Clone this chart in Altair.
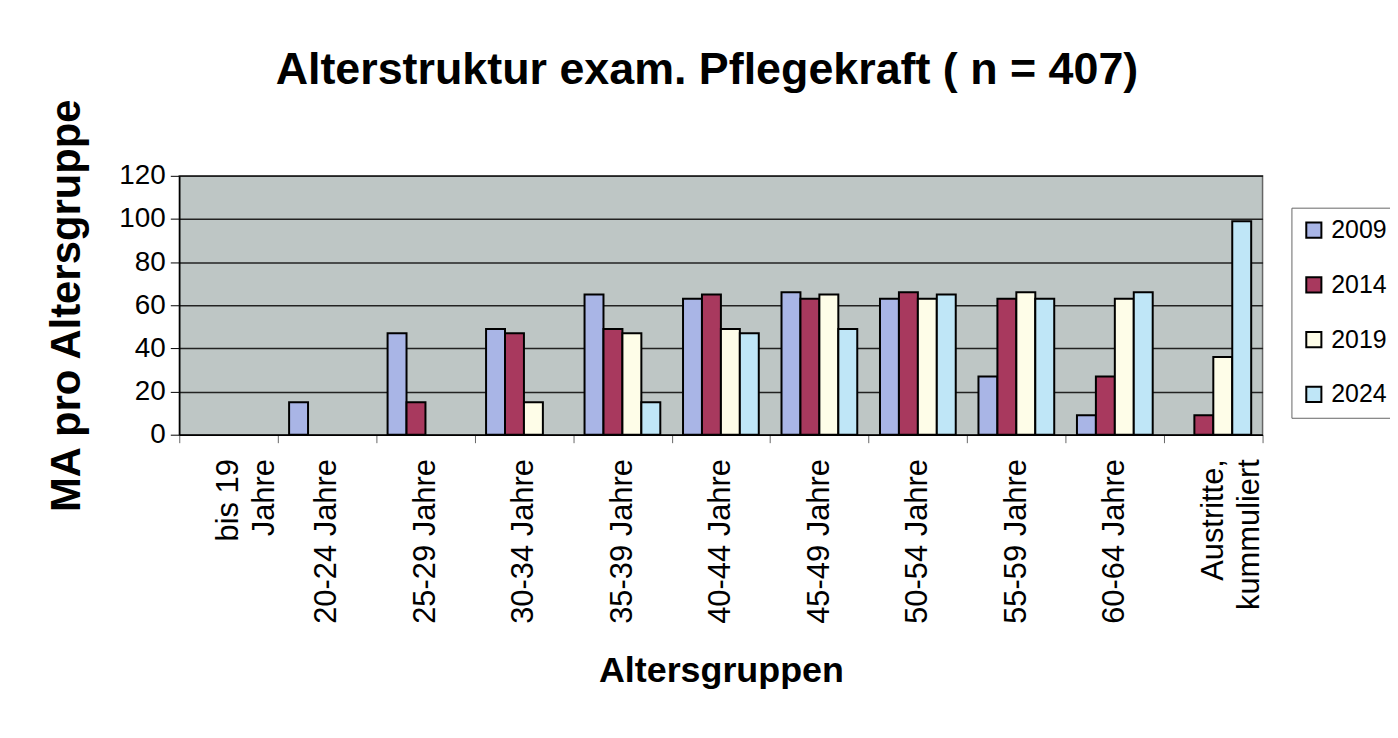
import altair as alt
import pandas as pd

categories = ["bis 19|Jahre", "20-24 Jahre", "25-29 Jahre", "30-34 Jahre", "35-39 Jahre",
              "40-44 Jahre", "45-49 Jahre", "50-54 Jahre", "55-59 Jahre", "60-64 Jahre",
              "Austritte,|kummuliert"]
years = ["2009", "2014", "2019", "2024"]
v2009 = [0, 15, 47, 49, 65, 63, 66, 63, 27, 9, 0]
v2014 = [0, 0, 15, 47, 49, 65, 63, 66, 63, 27, 9]
v2019 = [0, 0, 0, 15, 47, 49, 65, 63, 66, 63, 36]
v2024 = [0, 0, 0, 0, 15, 47, 49, 65, 63, 66, 99]
colors = ["#A9B5E6", "#A8395E", "#FEFDE8", "#BFE6F7"]

rows = []
for y, vals in zip(years, [v2009, v2014, v2019, v2024]):
    for c, v in zip(categories, vals):
        rows.append({"Altersgruppe": c, "Jahr": y, "Wert": v})
df = pd.DataFrame(rows)

FONT = "Liberation Sans"

chart = alt.Chart(df).transform_filter("datum.Wert > 0").mark_bar(
    stroke="black", strokeWidth=2
).encode(
    x=alt.X("Altersgruppe:N", sort=categories,
            scale=alt.Scale(domain=categories, paddingInner=0, paddingOuter=0),
            axis=alt.Axis(title="Altersgruppen", titleFont=FONT, titleFontSize=36,
                          titleFontWeight="bold", titleColor="black", titlePadding=30,
                          labelFont=FONT, labelFontSize=31, labelColor="black",
                          labelAngle=-90, labelAlign="right", labelBaseline="middle",
                          labelPadding=16, labelLineHeight=36,
                          labelExpr="split(datum.label, '|')",
                          tickBand="extent", tickSize=8, tickColor="#666",
                          domainColor="black", domainWidth=1.5, grid=False)),
    xOffset=alt.XOffset("Jahr:N", sort=years,
                        scale=alt.Scale(domain=years, paddingInner=0, paddingOuter=0.6)),
    y=alt.Y("Wert:Q", scale=alt.Scale(domain=[0, 120]),
            axis=alt.Axis(title="MA pro Altersgruppe", titleFont=FONT, titleFontSize=42,
                          titleFontWeight="bold", titleColor="black", titlePadding=30,
                          values=[0, 20, 40, 60, 80, 100, 120],
                          labelFont=FONT, labelFontSize=28, labelColor="black",
                          labelPadding=5, tickSize=9, tickColor="black",
                          domainColor="black", domainWidth=1.5,
                          grid=True, gridColor="#222", gridWidth=1.5)),
    color=alt.Color("Jahr:N", sort=years,
                    scale=alt.Scale(domain=years, range=colors),
                    legend=alt.Legend(orient="none", legendX=1117, legendY=32, title=None,
                                      labelFont=FONT, labelFontSize=25, labelColor="black",
                                      symbolType="square", symbolSize=230,
                                      symbolStrokeColor="black", symbolStrokeWidth=2,
                                      strokeColor="#666", fillColor="white",
                                      padding=10, rowPadding=29, labelOffset=5)),
).properties(
    width=1088, height=260,
    title=alt.TitleParams("Alterstruktur exam. Pflegekraft ( n = 407)", font=FONT,
                          fontSize=45, fontWeight="bold", color="black",
                          anchor="middle", dx=-14, offset=4),
    autosize=alt.AutoSizeParams(type="none"),
    padding={"left": 172, "top": 167, "right": 128, "bottom": 290},
    background="white",
).configure_view(fill="#BEC6C5", stroke="#666", strokeWidth=1.5)

chart.save("out.html", embed_options={"renderer": "svg", "actions": False})
